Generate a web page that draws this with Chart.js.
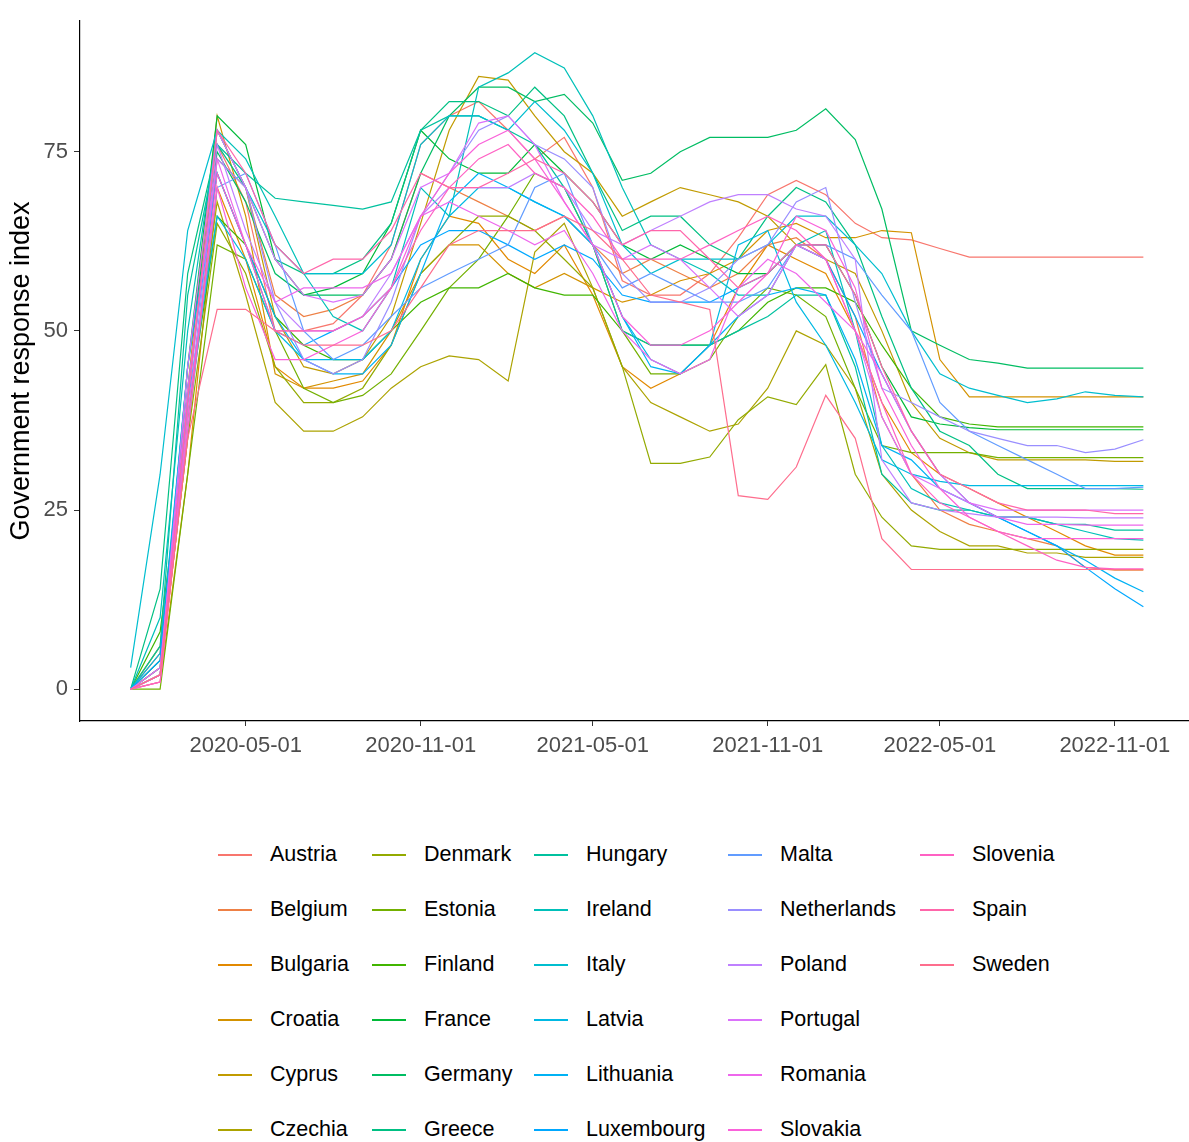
<!DOCTYPE html>
<html lang="en">
<head>
    <meta charset="UTF-8">
    <title>Government response index</title>
    <script src="https://cdn.jsdelivr.net/npm/chart.js"></script>
    <style>
        body {
            margin: 0;
            background: #ffffff;
            overflow: hidden;
            font-family: 'Liberation Sans', Arial, sans-serif;
        }

        .wrap {
            position: relative;
            width: 1189px;
            height: 1142px;
        }

        #chart {
            position: absolute;
            left: 0;
            top: 0;
        }

        .legend {
            position: absolute;
            left: 218px;
            top: 827px;
            display: grid;
            grid-template-columns: 154px 162px 194px 192px 200px;
            grid-template-rows: repeat(6, 55px);
            grid-auto-flow: column;
        }

        .item {
            display: flex;
            align-items: center;
            font-size: 21.5px;
            color: #000000;
            white-space: nowrap;
        }

        .key {
            width: 34px;
            height: 2px;
            margin-right: 18px;
        }
    </style>
</head>
<body>
    <div class="wrap">
        <canvas id="chart" width="1195" height="790"></canvas>
        <div class="legend" id="legend"></div>
    </div>

    <script>
        // Monthly dates
        const dates = [
            '2020-01-01', '2020-02-01', '2020-03-01', '2020-04-01', '2020-05-01', '2020-06-01',
            '2020-07-01', '2020-08-01', '2020-09-01', '2020-10-01', '2020-11-01', '2020-12-01',
            '2021-01-01', '2021-02-01', '2021-03-01', '2021-04-01', '2021-05-01', '2021-06-01',
            '2021-07-01', '2021-08-01', '2021-09-01', '2021-10-01', '2021-11-01', '2021-12-01',
            '2022-01-01', '2022-02-01', '2022-03-01', '2022-04-01', '2022-05-01', '2022-06-01',
            '2022-07-01', '2022-08-01', '2022-09-01', '2022-10-01', '2022-11-01', '2022-12-01'
        ];

        const xTickDates = ['2020-05-01', '2020-11-01', '2021-05-01', '2021-11-01', '2022-05-01', '2022-11-01'];
        const yTicks = [0, 25, 50, 75];

        const countries = [
            'Austria', 'Belgium', 'Bulgaria', 'Croatia', 'Cyprus', 'Czechia', 'Denmark', 'Estonia', 'Finland',
            'France', 'Germany', 'Greece', 'Hungary', 'Ireland', 'Italy', 'Latvia', 'Lithuania', 'Luxembourg',
            'Malta', 'Netherlands', 'Poland', 'Portugal', 'Romania', 'Slovakia', 'Slovenia', 'Spain', 'Sweden'
        ];

        // Government response index per country
        const austria = [0, 4, 40, 76, 68, 50, 50, 51, 55, 62, 76, 80,
            82, 78, 74, 77, 70, 57, 55, 55, 58, 63, 69, 71,
            69, 65, 63, 62.7, 61.5, 60.3, 60.3, 60.3, 60.3, 60.3, 60.3, 60.3];
        const belgium = [0, 2, 35, 74, 70, 55, 52, 53, 55, 60, 72, 70,
            68, 66, 64, 66, 62, 58, 60, 58, 56, 58, 62, 63,
            60, 52, 38, 30, 25, 23, 22, 21, 20, 17, 16.6, 16.6];
        const bulgaria = [0, 1, 30, 70, 60, 45, 42, 42, 43, 48, 60, 66,
            65, 60, 58, 62, 55, 45, 42, 44, 48, 56, 62, 60,
            58, 50, 40, 33, 30, 28, 26, 24, 22, 20, 18.7, 18.7];
        const croatia = [0, 5, 42, 80, 66, 44, 42, 43, 44, 50, 58, 62,
            62, 58, 56, 58, 56, 54, 55, 57, 58, 60, 64, 65,
            63, 63, 64, 63.7, 46, 40.8, 40.8, 40.8, 40.8, 40.8, 40.8, 40.8];
        const cyprus = [0, 6, 40, 78, 70, 52, 45, 44, 46, 52, 65, 78,
            85.5, 85, 80, 75, 72, 66, 68, 70, 69, 68, 66, 62,
            60, 58, 50, 40, 35, 33, 32, 32, 32, 32, 31.8, 31.8];
        const czechia = [0, 3, 38, 68, 55, 40, 36, 36, 38, 42, 45, 46.5,
            46, 43, 61, 65, 56, 45, 40, 38, 36, 37, 42, 50,
            48, 42, 30, 25, 22, 20, 20, 19, 19, 18.4, 18.4, 18.4];
        const denmark = [0, 2, 35, 65, 58, 45, 40, 40, 42, 48, 58, 62,
            66, 66, 64, 60, 56, 45, 31.5, 31.5, 32.4, 37.6, 40.8, 39.7,
            45.3, 30, 24, 20, 19.5, 19.5, 19.5, 19.5, 19.5, 19.5, 19.5, 19.5];
        const estonia = [0, 0, 30, 62, 60, 50, 42, 40, 41, 44, 50, 56,
            60, 66, 72, 70, 62, 50, 44, 44, 46, 52, 56, 55,
            52, 42, 34, 33, 33, 33, 32.3, 32.3, 32.3, 32.3, 32.3, 32.3];
        const finland = [0, 8, 38, 66, 62, 52, 48, 46, 46, 50, 54, 56,
            56, 58, 56, 55, 55, 50, 48, 48, 48, 50, 54, 56,
            56, 54, 48, 42, 38, 37, 36.6, 36.6, 36.6, 36.6, 36.6, 36.6];
        const france = [0, 3, 45, 80, 76, 60, 55, 56, 58, 65, 78, 74,
            72, 72, 76, 72, 68, 62, 60, 62, 60, 58, 58, 62,
            62, 55, 45, 38, 37, 36.5, 36.2, 36.2, 36.2, 36.2, 36.2, 36.2];
        const germany = [0, 4, 45, 75, 68, 58, 55, 55, 55, 60, 72, 80,
            84, 84, 82, 83, 79, 71, 72, 75, 77, 77, 77, 78,
            81, 76.7, 67, 50, 48, 46, 45.5, 44.8, 44.8, 44.8, 44.8, 44.8];
        const greece = [0, 14, 58, 76, 70, 60, 58, 58, 60, 65, 78, 82,
            82, 80, 84, 80, 72, 64, 66, 66, 62, 60, 66, 70,
            68, 62, 52, 42, 36, 34, 30, 28, 28, 28, 28, 27.9];
        const hungary = [0, 6, 55, 76, 72, 68.5, 68, 67.5, 67, 68, 78, 80,
            80, 78, 76, 70, 62, 50, 48, 48, 48, 50, 52, 55,
            55, 45, 30, 26, 25, 25, 24, 24, 23, 23, 22.2, 22.2];
        const ireland = [0, 10, 50, 78, 74, 66, 58, 52, 50, 56, 70, 66,
            84, 86, 88.8, 86.7, 80, 70, 62, 60, 58, 55, 55, 62,
            64, 50, 34, 28, 26, 25, 24, 24, 23, 22, 21, 20.8];
        const italy = [3, 30, 64, 78, 70, 62, 58, 58, 58, 62, 76, 80,
            80, 78, 82, 78, 72, 62, 58, 60, 60, 60, 62, 66,
            66, 62, 58, 50, 44, 42, 41, 40, 40.5, 41.5, 41, 40.8];
        const latvia = [0, 2, 40, 66, 60, 50, 46, 46, 46, 50, 60, 66,
            70, 70, 68, 66, 62, 52, 46, 44, 48, 62, 64, 54,
            48, 40, 32, 30, 29, 28.4, 28.4, 28.4, 28.4, 28.4, 28.4, 28.4];
        const lithuania = [0, 5, 45, 72, 62, 52, 46, 44, 44, 48, 58, 68,
            72, 70, 68, 66, 62, 52, 45, 44, 48, 52, 55, 56,
            55, 46, 34, 32, 28, 26, 24, 22, 20, 18, 15.5, 13.6];
        const luxembourg = [0, 4, 42, 72, 62, 50, 48, 50, 52, 56, 62, 64,
            64, 62, 60, 62, 60, 55, 54, 54, 54, 56, 58, 62,
            60, 52, 44, 36, 30, 26, 24, 22, 20, 17, 14, 11.5];
        const malta = [0, 3, 36, 70, 72, 62, 50, 46, 48, 52, 56, 58,
            60, 62, 70, 72, 62, 56, 58, 56, 54, 54, 56, 62,
            62, 60, 55, 50, 40, 36, 34, 32, 30, 28, 28, 28.2];
        const netherlands = [0, 2, 38, 74, 70, 54, 46, 44, 46, 54, 66, 72,
            78, 80, 76, 74, 70, 58, 54, 54, 56, 60, 62, 68,
            70, 54, 42, 40, 38, 36, 35, 34, 34, 33, 33.5, 34.8];
        const poland = [0, 2, 40, 76, 64, 54, 50, 50, 52, 58, 66, 70,
            70, 70, 72, 70, 64, 62, 64, 66, 68, 69, 69, 67,
            66, 60, 32, 26, 25, 24.5, 24, 24, 24, 23.9, 23.9, 23.9];
        const portugal = [0, 2, 45, 78, 70, 60, 55, 54, 55, 60, 70, 72,
            79, 80, 76, 68, 62, 60, 62, 60, 56, 52, 55, 62,
            60, 50, 38, 30, 28, 26, 25, 25, 25, 25, 25, 25];
        const romania = [0, 3, 42, 74, 62, 54, 56, 56, 56, 58, 66, 68,
            66, 64, 62, 64, 58, 50, 46, 44, 46, 56, 60, 58,
            54, 50, 44, 36, 30, 26, 24, 23, 23, 22.9, 22.9, 22.9];
        const slovakia = [0, 1, 38, 70, 56, 46, 46, 48, 50, 56, 66, 72,
            76, 78, 74, 68, 62, 52, 48, 48, 50, 54, 58, 66,
            64, 56, 42, 34, 28, 24, 22, 21, 21, 21, 21, 21];
        const slovenia = [0, 1, 36, 72, 62, 50, 50, 50, 52, 56, 64, 70,
            74, 76, 72, 70, 66, 60, 60, 60, 62, 64, 66, 64,
            60, 50, 40, 30, 26, 24, 22, 20, 18, 17, 16.8, 16.8];
        const spain = [0, 2, 40, 78, 72, 62, 58, 60, 60, 64, 72, 70,
            70, 72, 74, 72, 68, 62, 64, 64, 60, 56, 58, 62,
            62, 55, 45, 36, 30, 28, 26, 25, 25, 25, 24.5, 24.5];
        const sweden = [0, 2, 35, 53, 53, 50, 48, 48, 48, 50, 56, 62,
            64, 64, 64, 66, 64, 60, 55, 54, 53, 27, 26.5, 31,
            41, 35, 21, 16.7, 16.7, 16.7, 16.7, 16.7, 16.7, 16.7, 16.7, 16.7];

        const series = [
            austria, belgium, bulgaria, croatia, cyprus, czechia, denmark, estonia, finland,
            france, germany, greece, hungary, ireland, italy, latvia, lithuania, luxembourg,
            malta, netherlands, poland, portugal, romania, slovakia, slovenia, spain, sweden
        ];

        // ggplot-like hue palette (hcl with c = 100, l = 65)
        function hcl(h, c, l) {
            const hr = h * Math.PI / 180;
            const U = c * Math.cos(hr), V = c * Math.sin(hr);
            const Xn = 95.047, Yn = 100, Zn = 108.883;
            const un = 4 * Xn / (Xn + 15 * Yn + 3 * Zn);
            const vn = 9 * Yn / (Xn + 15 * Yn + 3 * Zn);
            const Y = l > 8 ? Yn * Math.pow((l + 16) / 116, 3) : Yn * l / 903.3;
            const u = U / (13 * l) + un;
            const v = V / (13 * l) + vn;
            const X = 9 * Y * u / (4 * v);
            const Z = -X / 3 - 5 * Y + 3 * Y / v;
            const lin = [
                (3.240479 * X - 1.537150 * Y - 0.498535 * Z) / 100,
                (-0.969256 * X + 1.875992 * Y + 0.041556 * Z) / 100,
                (0.055648 * X - 0.204043 * Y + 1.057311 * Z) / 100
            ];
            const rgb = lin.map(t => {
                const g = t <= 0.0031308 ? 12.92 * t : 1.055 * Math.pow(t, 1 / 2.4) - 0.055;
                return Math.round(Math.min(1, Math.max(0, g)) * 255);
            });
            return `rgb(${rgb[0]}, ${rgb[1]}, ${rgb[2]})`;
        }

        const colors = countries.map((c, i) => hcl(15 + 360 * i / countries.length, 100, 65));

        const dayOf = s => (Date.parse(s) - Date.parse(dates[0])) / 86400000;
        const xFirst = dayOf(dates[0]);
        const xLast = dayOf(dates[dates.length - 1]);
        const xPad = (xLast - xFirst) * 0.05;
        const yMax = Math.max(...series.flat());
        const yPad = yMax * 0.05;

        const datasets = countries.map((name, i) => ({
            label: name,
            data: series[i].map((v, j) => ({ x: dayOf(dates[j]), y: v })),
            borderColor: colors[i],
            borderWidth: 1.2,
            pointRadius: 0,
            tension: 0,
            fill: false,
            order: countries.length - i
        }));

        new Chart(document.getElementById('chart'), {
            type: 'line',
            data: { datasets: datasets },
            options: {
                responsive: false,
                animation: false,
                devicePixelRatio: 1,
                layout: { padding: { top: 21, right: 1, left: 0, bottom: 0 } },
                plugins: {
                    legend: { display: false },
                    tooltip: { enabled: false }
                },
                scales: {
                    x: {
                        type: 'linear',
                        min: xFirst - xPad,
                        max: xLast + xPad,
                        afterBuildTicks: scale => {
                            scale.ticks = xTickDates.map(d => ({ value: dayOf(d) }));
                        },
                        afterFit: scale => { scale.height = 69; },
                        ticks: {
                            autoSkip: false,
                            maxRotation: 0,
                            padding: 7,
                            color: '#4d4d4d',
                            font: { size: 22, family: "'Liberation Sans', Arial, sans-serif" },
                            callback: (value, index) => xTickDates[index]
                        },
                        grid: {
                            drawOnChartArea: false,
                            drawTicks: true,
                            tickLength: 5,
                            tickColor: '#333333'
                        },
                        border: { display: true, color: '#000000', width: 1.2 }
                    },
                    y: {
                        type: 'linear',
                        min: -yPad,
                        max: yMax + yPad,
                        afterBuildTicks: scale => {
                            scale.ticks = yTicks.map(v => ({ value: v }));
                        },
                        afterFit: scale => { scale.width = 80; },
                        ticks: {
                            padding: 6,
                            color: '#4d4d4d',
                            font: { size: 22, family: "'Liberation Sans', Arial, sans-serif" }
                        },
                        grid: {
                            drawOnChartArea: false,
                            drawTicks: true,
                            tickLength: 6,
                            tickColor: '#333333'
                        },
                        border: { display: true, color: '#000000', width: 1.2 },
                        title: {
                            display: true,
                            text: 'Government response index',
                            color: '#000000',
                            padding: { top: 5, bottom: 0 },
                            font: { size: 27, family: "'Liberation Sans', Arial, sans-serif" }
                        }
                    }
                }
            }
        });

        // Legend, filled column by column as in the original
        const legend = document.getElementById('legend');
        countries.forEach((name, i) => {
            const item = document.createElement('div');
            item.className = 'item';
            item.innerHTML = `<span class="key" style="background:${colors[i]}"></span><span>${name}</span>`;
            legend.appendChild(item);
        });
    </script>
</body>
</html>
